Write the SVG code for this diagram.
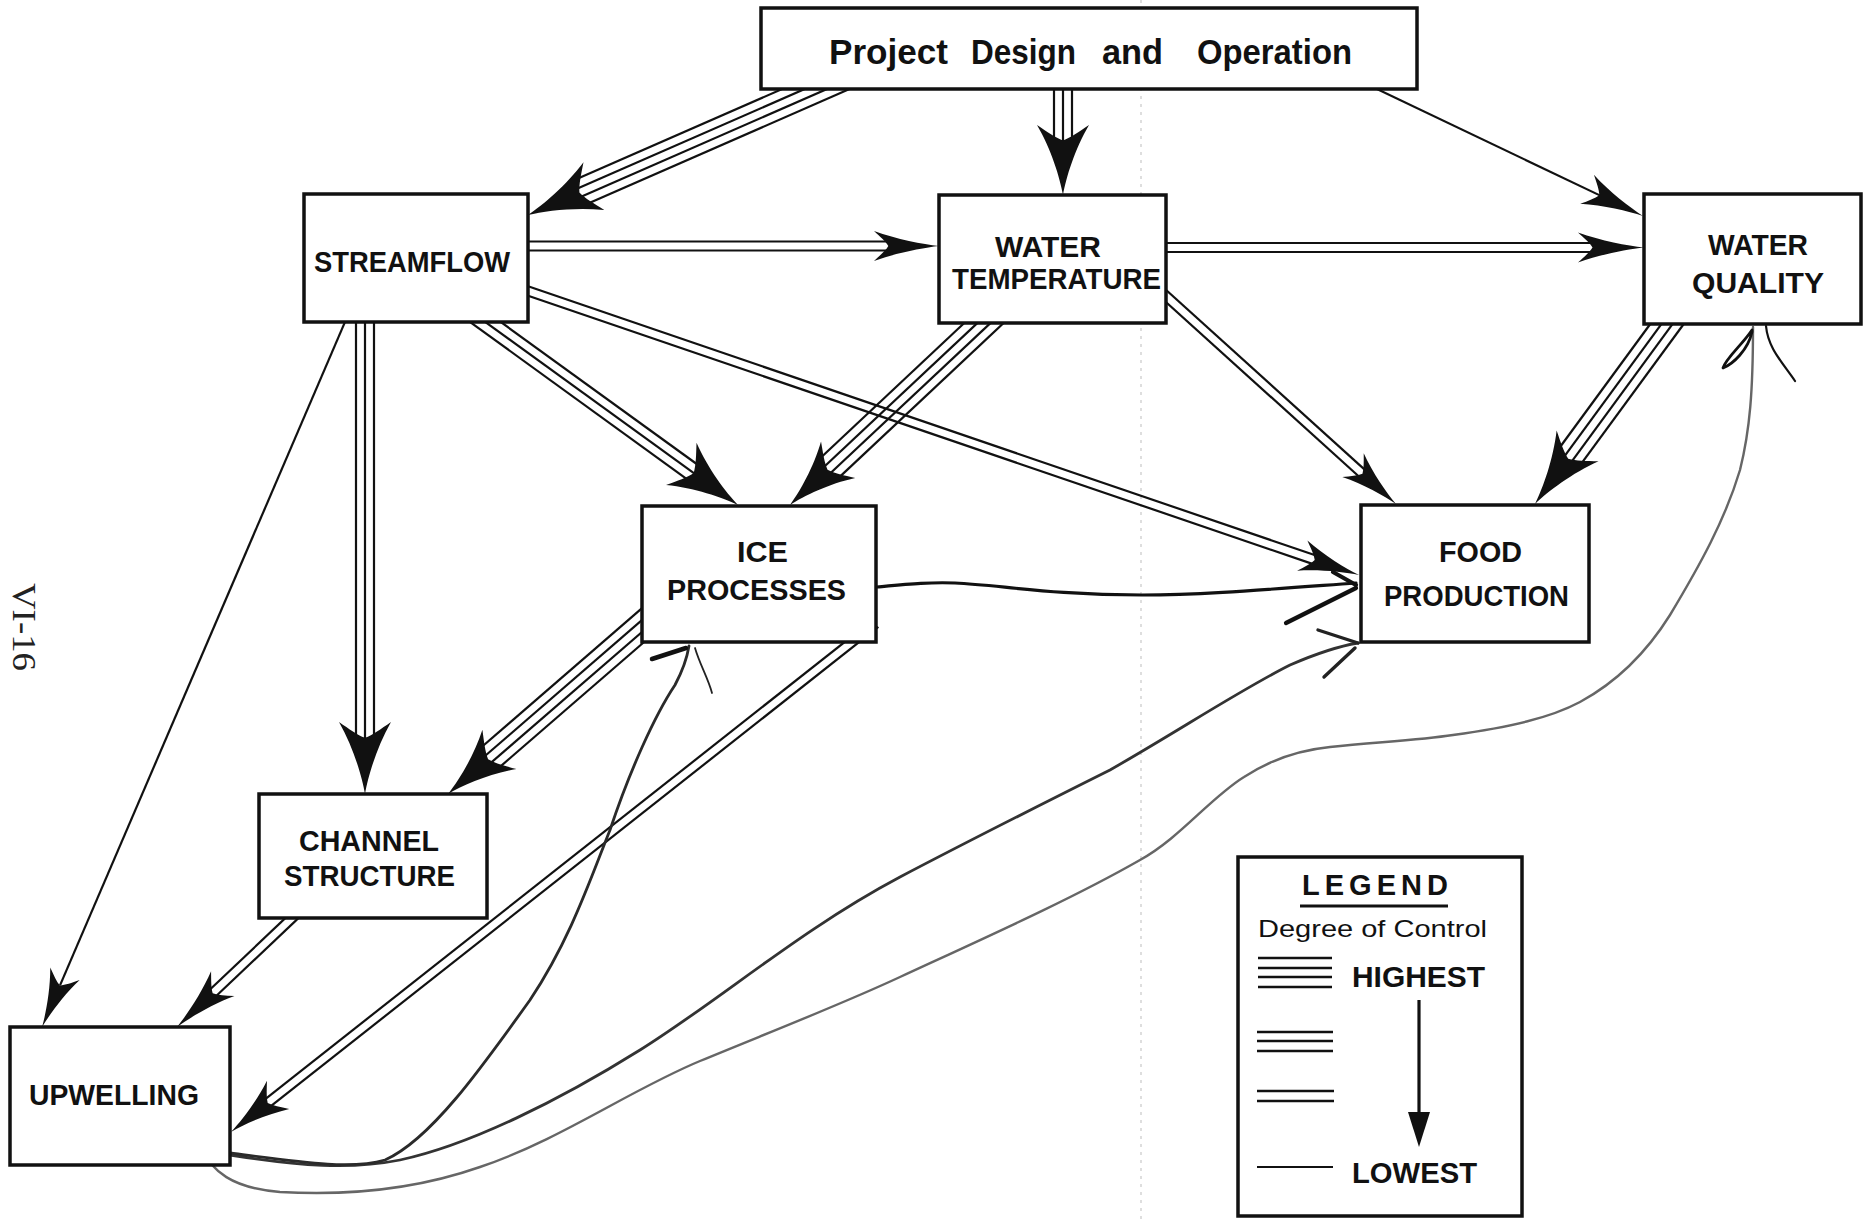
<svg xmlns="http://www.w3.org/2000/svg" xmlns:xlink="http://www.w3.org/1999/xlink" width="1864" height="1220" viewBox="0 0 1864 1220">
<style>
.box{fill:#fff;stroke:#111;stroke-width:3.5}
.lbl{font-family:"Liberation Sans",Arial,sans-serif;font-weight:bold;font-size:29px;fill:#111}
.ttl{font-family:"Liberation Sans",Arial,sans-serif;font-weight:bold;font-size:35px;fill:#111}
.ln{stroke:#111;stroke-width:2.2;fill:none}
.ah{fill:#111}
.hand{fill:none;stroke-linecap:round;stroke-linejoin:round}
.leg{stroke:#111;stroke-width:2.6}
</style>
<defs>
<path id="ah" d="M0,0 C-0.25,-0.12 -0.65,-0.45 -1,-1 C-0.9,-0.6 -0.82,-0.3 -0.78,0 C-0.82,0.3 -0.9,0.6 -1,1 C-0.65,0.45 -0.25,0.12 0,0 Z"/>
</defs>
<rect width="1864" height="1220" fill="#fff"/>
<line x1="1141" y1="0" x2="1141" y2="1220" stroke="#c8c8c8" stroke-width="1.2" stroke-dasharray="3 5"/>
<g id="connectors">
<g id="e-proj-stream" transform="translate(816,89) rotate(156.37)">
<line class="ln" x1="-40" y1="-13.5" x2="259" y2="-13.5"/><line class="ln" x1="-40" y1="-4.5" x2="259" y2="-4.5"/><line class="ln" x1="-40" y1="4.5" x2="259" y2="4.5"/><line class="ln" x1="-40" y1="13.5" x2="259" y2="13.5"/>
<use href="#ah" class="ah" transform="translate(314.4,0) scale(72,26)"/>
</g>
<g id="e-proj-wtemp" transform="translate(1063,89) rotate(90)">
<line class="ln" x1="-30" y1="-9" x2="54" y2="-9"/><line class="ln" x1="-30" y1="0" x2="54" y2="0"/><line class="ln" x1="-30" y1="9" x2="54" y2="9"/>
<use href="#ah" class="ah" transform="translate(106,0) scale(70,26)"/>
</g>
<g id="e-proj-wq" transform="translate(1379,90) rotate(25.51)">
<line class="ln" x1="-40" y1="0" x2="247" y2="0"/>
<use href="#ah" class="ah" transform="translate(292.5,0) scale(62,16)"/>
</g>
<g id="e-stream-wtemp" transform="translate(528,246)">
<line class="ln" x1="-10" y1="-4.5" x2="361" y2="-4.5"/><line class="ln" x1="-10" y1="4.5" x2="361" y2="4.5"/>
<use href="#ah" class="ah" transform="translate(411,0) scale(65,15)"/>
</g>
<g id="e-wtemp-wq" transform="translate(1166,247.5)">
<line class="ln" x1="-10" y1="-4.5" x2="428" y2="-4.5"/><line class="ln" x1="-10" y1="4.5" x2="428" y2="4.5"/>
<use href="#ah" class="ah" transform="translate(478,0) scale(66,15)"/>
</g>
<g id="e-stream-ice" transform="translate(484,321) rotate(35.92)">
<line class="ln" x1="-40" y1="-9" x2="260" y2="-9"/><line class="ln" x1="-40" y1="0" x2="260" y2="0"/><line class="ln" x1="-40" y1="9" x2="260" y2="9"/>
<use href="#ah" class="ah" transform="translate(313.6,0) scale(70,26)"/>
</g>
<g id="e-wtemp-ice" transform="translate(984,323) rotate(136.83)">
<line class="ln" x1="-40" y1="-13.5" x2="216" y2="-13.5"/><line class="ln" x1="-40" y1="-4.5" x2="216" y2="-4.5"/><line class="ln" x1="-40" y1="4.5" x2="216" y2="4.5"/><line class="ln" x1="-40" y1="13.5" x2="216" y2="13.5"/>
<use href="#ah" class="ah" transform="translate(266,0) scale(66,25)"/>
</g>
<g id="e-stream-food" transform="translate(528,291) rotate(18.87)">
<line class="ln" x1="-20" y1="-4.5" x2="832" y2="-4.5"/><line class="ln" x1="-20" y1="4.5" x2="832" y2="4.5"/>
<use href="#ah" class="ah" transform="translate(878.2,0) scale(60,16)"/>
</g>
<g id="e-wtemp-food" transform="translate(1166,296) rotate(42.12)">
<line class="ln" x1="-30" y1="-4.5" x2="266" y2="-4.5"/><line class="ln" x1="-30" y1="4.5" x2="266" y2="4.5"/>
<use href="#ah" class="ah" transform="translate(310.1,0) scale(58,16)"/>
</g>
<g id="e-wq-food" transform="translate(1667,324) rotate(126.25)">
<line class="ln" x1="-40" y1="-13.5" x2="168" y2="-13.5"/><line class="ln" x1="-40" y1="-4.5" x2="168" y2="-4.5"/><line class="ln" x1="-40" y1="4.5" x2="168" y2="4.5"/><line class="ln" x1="-40" y1="13.5" x2="168" y2="13.5"/>
<use href="#ah" class="ah" transform="translate(223.2,0) scale(72,26)"/>
</g>
<g id="e-stream-channel" transform="translate(365,322) rotate(90)">
<line class="ln" x1="-30" y1="-9" x2="417" y2="-9"/><line class="ln" x1="-30" y1="0" x2="417" y2="0"/><line class="ln" x1="-30" y1="9" x2="417" y2="9"/>
<use href="#ah" class="ah" transform="translate(472,0) scale(72,26)"/>
</g>
<g id="e-stream-upwell" transform="translate(345,322) rotate(113.25)">
<line class="ln" x1="-30" y1="0" x2="722" y2="0"/>
<use href="#ah" class="ah" transform="translate(767.4,0) scale(58,16)"/>
</g>
<g id="e-ice-channel" transform="translate(642,626) rotate(139.11)">
<line class="ln" x1="-40" y1="-13.5" x2="205" y2="-13.5"/><line class="ln" x1="-40" y1="-4.5" x2="205" y2="-4.5"/><line class="ln" x1="-40" y1="4.5" x2="205" y2="4.5"/><line class="ln" x1="-40" y1="13.5" x2="205" y2="13.5"/>
<use href="#ah" class="ah" transform="translate(256.6,0) scale(68,26)"/>
</g>
<g id="e-channel-upwell" transform="translate(292,918) rotate(136.53)">
<line class="ln" x1="-30" y1="-4.5" x2="108" y2="-4.5"/><line class="ln" x1="-30" y1="4.5" x2="108" y2="4.5"/>
<use href="#ah" class="ah" transform="translate(158.4,0) scale(63,17)"/>
</g>
<g id="e-ice-upwell" transform="translate(852,642) rotate(141.73)">
<line class="ln" x1="-30" y1="-4.5" x2="745" y2="-4.5"/><line class="ln" x1="-30" y1="4.5" x2="745" y2="4.5"/>
<use href="#ah" class="ah" transform="translate(791,0) scale(60,18)"/>
</g>
<g id="e-ice-food">
<path class="hand" stroke="#111" stroke-width="3.2" d="M877,587 C910,584 930,582 955,583 C1000,585 1050,595 1142,595 C1200,595 1260,590 1356,583"/>
<path class="hand" stroke="#111" stroke-width="4.2" d="M1286,623 L1356,588 M1333,572 L1356,585"/>
</g>
<g id="e-upwell-food">
<path class="hand" stroke="#333" stroke-width="2.8" d="M230,1155 C300,1166 350,1170 400,1160 C470,1145 560,1100 640,1050 C720,1000 800,930 900,877 C980,835 1050,800 1110,770 C1180,730 1240,690 1290,665 C1320,652 1340,646 1358,643"/>
<path class="hand" stroke="#222" stroke-width="3.4" d="M1318,630 L1358,643 M1324,677 L1355,648"/>
</g>
<g id="e-upwell-ice">
<path class="hand" stroke="#2a2a2a" stroke-width="2.8" d="M230,1153 C300,1162 350,1170 385,1160 C430,1140 480,1070 530,1000 C570,940 590,880 610,830 C630,770 655,715 675,685 C683,670 687,658 689,646"/>
<path class="hand" stroke="#111" stroke-width="4.5" d="M652,659 L686,648"/>
<path class="hand" stroke="#222" stroke-width="1.8" d="M695,648 C700,665 708,678 712,693"/>
</g>
<g id="e-upwell-wq">
<path class="hand" stroke="#666" stroke-width="2.4" d="M199,1145 C212,1172 232,1188 280,1192 C350,1196 420,1188 480,1167 C560,1140 630,1090 700,1061 C770,1032 840,1005 900,977 C980,940 1070,900 1140,860 C1180,838 1210,798 1244,777 C1270,760 1300,750 1330,747 C1380,742 1420,740 1453,735 C1510,727 1550,718 1580,702 C1615,683 1645,655 1670,615 C1700,565 1725,520 1740,470 C1750,430 1753,390 1753,327"/>
<path class="hand" stroke="#111" stroke-width="2.8" d="M1752,330 C1742,345 1726,358 1723,368 C1733,364 1748,350 1752,332 Z"/>
<path class="hand" stroke="#111" stroke-width="2.2" d="M1766,326 C1768,348 1782,362 1795,381"/>
</g>
</g>
<g id="n-project">
<rect class="box" x="761" y="8" width="656" height="81"/>
<text class="ttl" x="829" y="64" textLength="119" lengthAdjust="spacingAndGlyphs">Project</text>
<text class="ttl" x="971" y="64" textLength="105" lengthAdjust="spacingAndGlyphs">Design</text>
<text class="ttl" x="1102" y="64" textLength="61" lengthAdjust="spacingAndGlyphs">and</text>
<text class="ttl" x="1197" y="64" textLength="155" lengthAdjust="spacingAndGlyphs">Operation</text>
</g>
<g id="n-streamflow">
<rect class="box" x="304" y="194" width="224" height="128"/>
<text class="lbl" x="314" y="272" textLength="196" lengthAdjust="spacingAndGlyphs">STREAMFLOW</text>
</g>
<g id="n-water-temperature">
<rect class="box" x="939" y="195" width="227" height="128"/>
<text class="lbl" x="995" y="257" textLength="106" lengthAdjust="spacingAndGlyphs">WATER</text>
<text class="lbl" x="952" y="289" textLength="209" lengthAdjust="spacingAndGlyphs">TEMPERATURE</text>
</g>
<g id="n-water-quality">
<rect class="box" x="1644" y="194" width="217" height="130"/>
<text class="lbl" x="1708" y="255" textLength="100" lengthAdjust="spacingAndGlyphs">WATER</text>
<text class="lbl" x="1692" y="293" textLength="132" lengthAdjust="spacingAndGlyphs">QUALITY</text>
</g>
<g id="n-ice-processes">
<rect class="box" x="642" y="506" width="234" height="136"/>
<text class="lbl" x="737" y="562" textLength="51" lengthAdjust="spacingAndGlyphs">ICE</text>
<text class="lbl" x="667" y="600" textLength="179" lengthAdjust="spacingAndGlyphs">PROCESSES</text>
</g>
<g id="n-food-production">
<rect class="box" x="1361" y="505" width="228" height="137"/>
<text class="lbl" x="1439" y="562" textLength="83" lengthAdjust="spacingAndGlyphs">FOOD</text>
<text class="lbl" x="1384" y="606" textLength="185" lengthAdjust="spacingAndGlyphs">PRODUCTION</text>
</g>
<g id="n-channel-structure">
<rect class="box" x="259" y="794" width="228" height="124"/>
<text class="lbl" x="299" y="851" textLength="140" lengthAdjust="spacingAndGlyphs">CHANNEL</text>
<text class="lbl" x="284" y="886" textLength="171" lengthAdjust="spacingAndGlyphs">STRUCTURE</text>
</g>
<g id="n-upwelling">
<rect class="box" x="10" y="1027" width="220" height="138"/>
<text class="lbl" x="29" y="1105" textLength="170" lengthAdjust="spacingAndGlyphs">UPWELLING</text>
</g>
<g id="legend">
<rect class="box" x="1238" y="857" width="284" height="359"/>
<text class="lbl" x="1302" y="895" font-size="30" textLength="146" lengthAdjust="spacing">LEGEND</text>
<line x1="1300" y1="906" x2="1448" y2="906" stroke="#111" stroke-width="3"/>
<text x="1258" y="937" font-family="Liberation Sans, Arial, sans-serif" font-size="24" fill="#111" textLength="229" lengthAdjust="spacingAndGlyphs">Degree of Control</text>
<line class="leg" x1="1258" y1="958" x2="1332" y2="958"/><line class="leg" x1="1258" y1="968" x2="1332" y2="968"/><line class="leg" x1="1258" y1="977" x2="1332" y2="977"/><line class="leg" x1="1258" y1="987" x2="1332" y2="987"/>
<text class="lbl" x="1352" y="987" font-size="32" textLength="133" lengthAdjust="spacingAndGlyphs">HIGHEST</text>
<line class="leg" x1="1257" y1="1032" x2="1333" y2="1032"/><line class="leg" x1="1257" y1="1041" x2="1333" y2="1041"/><line class="leg" x1="1257" y1="1051" x2="1333" y2="1051"/>
<line class="leg" x1="1257" y1="1091" x2="1334" y2="1091"/><line class="leg" x1="1257" y1="1101" x2="1334" y2="1101"/>
<line x1="1257" y1="1167" x2="1333" y2="1167" stroke="#111" stroke-width="2"/>
<line x1="1419" y1="1000" x2="1419" y2="1118" stroke="#111" stroke-width="3.2"/>
<polygon points="1408,1112 1430,1112 1419,1147" fill="#111"/>
<text class="lbl" x="1352" y="1183" font-size="32" textLength="125" lengthAdjust="spacingAndGlyphs">LOWEST</text>
</g>
<text transform="translate(13,583) rotate(90)" font-family="Liberation Serif, Times New Roman, serif" font-size="33" fill="#222" textLength="88" lengthAdjust="spacingAndGlyphs">VI-16</text>
</svg>
